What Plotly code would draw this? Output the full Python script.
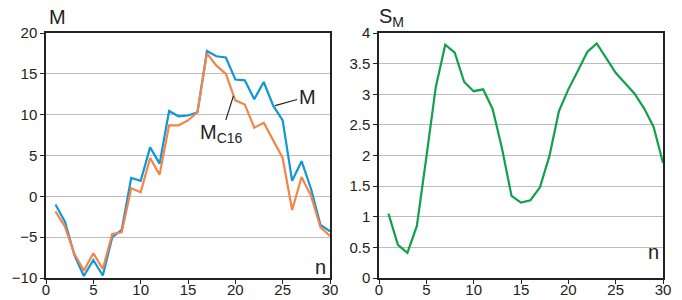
import plotly.graph_objects as go

n = list(range(1, 31))
M = [-1.0, -3.1, -7.2, -9.75, -7.8, -9.7, -5.0, -4.1, 2.25, 1.9,
     6.0, 4.0, 10.45, 9.8, 9.9, 10.3, 17.8, 17.15, 17.0, 14.3,
     14.2, 11.9, 14.0, 11.1, 9.3, 1.9, 4.3, 0.9, -3.5, -4.3]
MC16 = [-1.85, -3.7, -7.05, -9.1, -6.97, -8.9, -4.6, -4.4, 1.0, 0.5,
        4.7, 2.66, 8.7, 8.7, 9.3, 10.3, 17.5, 16.0, 15.0, 11.75,
        11.25, 8.4, 9.0, 6.9, 4.7, -1.67, 2.37, 0.06, -3.8, -4.85]
SM = [1.05, 0.54, 0.41, 0.85, 1.97, 3.12, 3.81, 3.68, 3.20, 3.05,
      3.08, 2.76, 2.11, 1.34, 1.23, 1.27, 1.48, 1.99, 2.72, 3.08,
      3.38, 3.69, 3.83, 3.58, 3.35, 3.18, 3.01, 2.77, 2.47, 1.88]
x_ticks = [0, 5, 10, 15, 20, 25, 30]
y1_ticks = [-10, -5, 0, 5, 10, 15, 20]
y2_ticks = [0, 0.5, 1, 1.5, 2, 2.5, 3, 3.5, 4]

BLUE = "#1296d6"
ORANGE = "#f4844a"
GREEN = "#12a04a"
FONT = "Liberation Sans, Arial, sans-serif"
TXT = "#222222"

fig = go.Figure()
fig.add_trace(go.Scatter(x=n, y=M, mode="lines", line=dict(color=BLUE, width=2.2),
                         xaxis="x", yaxis="y", showlegend=False))
fig.add_trace(go.Scatter(x=n, y=MC16, mode="lines", line=dict(color=ORANGE, width=2.2),
                         xaxis="x", yaxis="y", showlegend=False))
fig.add_trace(go.Scatter(x=n, y=SM, mode="lines", line=dict(color=GREEN, width=2.2),
                         xaxis="x2", yaxis="y2", showlegend=False))

W, H = 682, 300
TOP, BOT = 33, 278
PH = BOT - TOP
ax_common = dict(showline=True, linecolor="#222222", linewidth=1.5, mirror=True,
                 ticks="outside", ticklen=4, tickwidth=1, tickcolor="#222222",
                 tickfont=dict(family=FONT, size=15, color=TXT), zeroline=False)

fig.update_layout(
    width=W, height=H,
    margin=dict(l=0, r=0, t=TOP, b=H - BOT, autoexpand=False),
    paper_bgcolor="white", plot_bgcolor="white",
    font=dict(family=FONT, color=TXT),
    xaxis=dict(domain=[46 / W, 330 / W], range=[0, 30], tickvals=x_ticks,
               showgrid=False, anchor="y", ticklabelstandoff=-7, **ax_common),
    yaxis=dict(domain=[0, 1], range=[-10, 20], tickvals=y1_ticks,
               showgrid=True, gridcolor="#bdbdbd", gridwidth=1.2, anchor="x", **ax_common),
    xaxis2=dict(domain=[379 / W, 663 / W], range=[0, 30], tickvals=x_ticks,
                showgrid=False, anchor="y2", ticklabelstandoff=-7, **ax_common),
    yaxis2=dict(domain=[0, 1], range=[0, 4], tickvals=y2_ticks,
                showgrid=True, gridcolor="#bdbdbd", gridwidth=1.2, anchor="x2", **ax_common),
)

big = dict(family=FONT, size=20, color=TXT)
fig.add_annotation(text="M", xref="paper", yref="paper", x=47 / W, y=(BOT - 17) / PH,
                   xanchor="left", yanchor="middle", showarrow=False, font=big)
fig.add_annotation(text="S<sub>M</sub>", xref="paper", yref="paper", x=377 / W, y=(BOT - 18) / PH,
                   xanchor="left", yanchor="middle", showarrow=False, font=big)
fig.add_annotation(text="n", xref="x", yref="y", x=29.8, y=-8.6,
                   xanchor="right", yanchor="middle", showarrow=False, font=big)
fig.add_annotation(text="n", xref="x2", yref="y2", x=29.8, y=0.42,
                   xanchor="right", yanchor="middle", showarrow=False, font=big)
fig.add_annotation(text="M", xref="x", yref="y", x=24.2, y=11.1,
                   ax=32, ay=-9, showarrow=True, arrowhead=0, arrowwidth=1.2,
                   arrowcolor="#222222", font=big)
fig.add_annotation(text="M<sub>C16</sub>", xref="x", yref="y", x=19.8, y=12.3,
                   ax=-12, ay=38, showarrow=True, arrowhead=0, arrowwidth=1.2,
                   arrowcolor="#222222", font=big)

fig.write_html("out.html", config={"displayModeBar": False},
               post_script="document.body.style.margin='0';")
